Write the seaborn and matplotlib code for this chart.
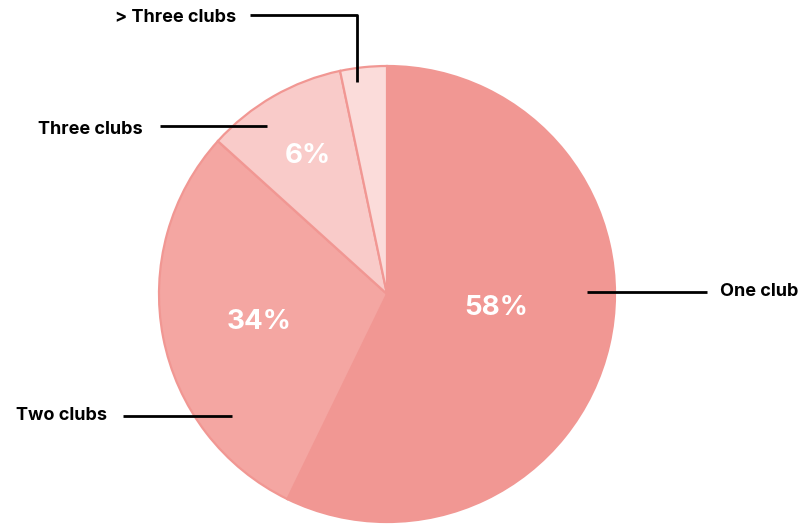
import numpy as np
import matplotlib
matplotlib.use("Agg")
import matplotlib.pyplot as plt
import seaborn as sns

categories = ["One club", "Two clubs", "Three clubs", "> Three clubs"]
values = [57.2, 29.5, 10.0, 3.3]
pct_labels = ["58%", "34%", "6%", ""]
colors = ["#F19793", "#F4A6A2", "#F9CBC9", "#FBDCDA"]

sns.set_theme(style="white")
plt.rcParams["font.family"] = ["Inter", "DejaVu Sans"]

W, H = 802, 526
fig = plt.figure(figsize=(W / 100, H / 100), dpi=100)
ax = fig.add_axes([0, 0, 1, 1])
ax.axis("off")


def py(y):
    return H - y


cx, cy, R = 387, py(294), 228
wedges, _ = ax.pie(values, colors=colors, startangle=90, counterclock=False,
                   center=(cx, cy), radius=R,
                   wedgeprops=dict(edgecolor="#F19793", linewidth=1.6))
ax.set_xlim(0, W)
ax.set_ylim(0, H)
ax.set_aspect("equal")

dist = [0.49, 0.57, 0.70, 0.7]
lift = [11, -3, 0, 0]
for w, lab, d, dy in zip(wedges, pct_labels, dist, lift):
    if not lab:
        continue
    mid = np.deg2rad((w.theta1 + w.theta2) / 2)
    x = cx + d * R * np.cos(mid)
    y = cy + d * R * np.sin(mid) + dy
    ax.text(x, y, lab, color="white", fontsize=20, fontweight="bold",
            ha="center", va="center")

lk = dict(color="black", lw=2, solid_capstyle="butt")
tk = dict(fontsize=13, fontweight="bold", color="black", va="center")
ax.plot([587, 707], [py(292), py(292)], **lk)
ax.text(720, py(291), categories[0], ha="left", **tk)
ax.plot([123, 232], [py(416), py(416)], **lk)
ax.text(107, py(416), categories[1], ha="right", **tk)
ax.plot([160, 267], [py(126), py(126)], **lk)
ax.text(143, py(129), categories[2], ha="right", **tk)
ax.plot([250, 357, 357], [py(15), py(15), py(82)], **lk)
ax.text(236, py(17), categories[3], ha="right", **tk)

fig.savefig("out.png", dpi=100)
